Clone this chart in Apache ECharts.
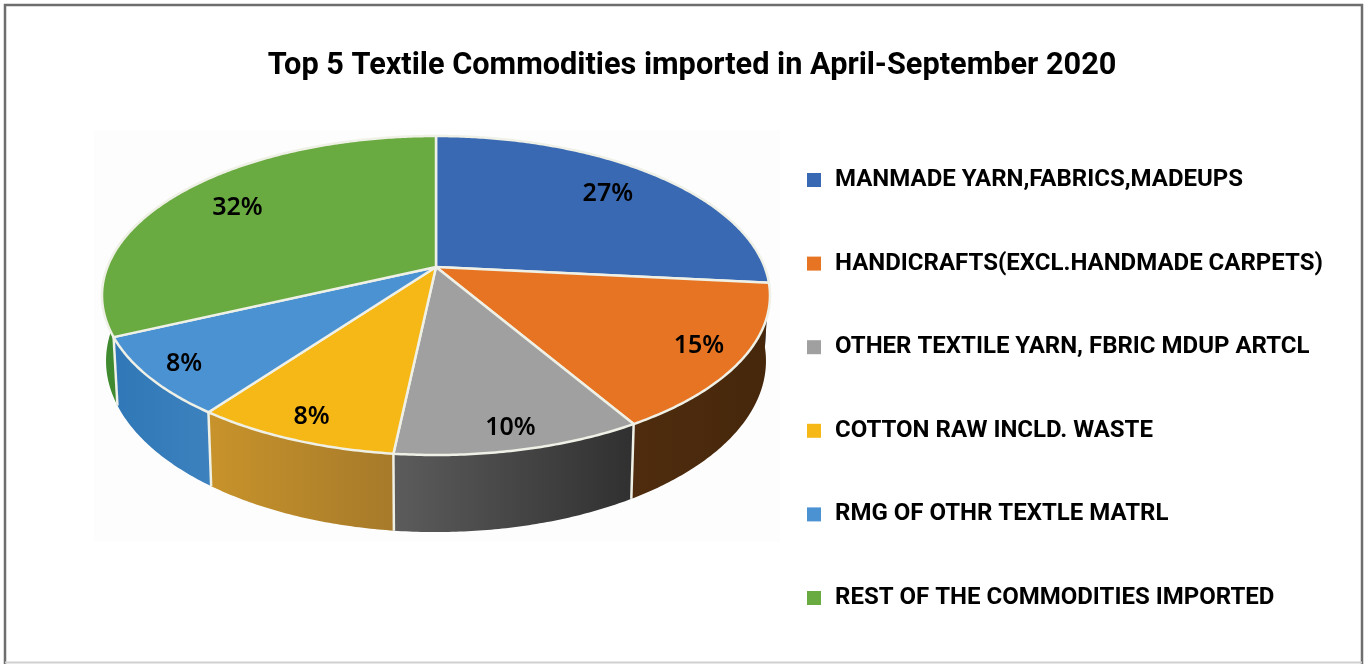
<!DOCTYPE html>
<html>
<head>
<meta charset="utf-8">
<style type="text/css">
html, body { margin: 0; padding: 0; background: #fff; }
#chart { width: 1368px; height: 664px; }
</style>
<script src="https://cdn.jsdelivr.net/npm/echarts@6/dist/echarts.min.js"></script>
</head>
<body>
<div id="chart"></div>
<script>
var chartTitle = 'Top 5 Textile Commodities imported in April-September 2020';
var categories = [
    'MANMADE YARN,FABRICS,MADEUPS',
    'HANDICRAFTS(EXCL.HANDMADE CARPETS)',
    'OTHER TEXTILE YARN, FBRIC MDUP ARTCL',
    'COTTON RAW INCLD. WASTE',
    'RMG OF OTHR TEXTLE MATRL',
    'REST OF THE COMMODITIES IMPORTED'
];
// estimated from the slice boundaries, they round to the printed labels
var shares = [26.6, 14.9, 10.2, 8.4, 8, 31.9];
var topColors = ['#3a69b4', '#e77423', '#a0a0a0', '#f6b817', '#4b92d3', '#69aa41'];
var wallColors = [
    ['#2c4f88', '#2c4f88'],
    ['#4f2c0e', '#46270b'],
    ['#5c5c5c', '#303030'],
    ['#c8932b', '#a67a2a'],
    ['#2f77b6', '#3d82bf'],
    ['#3f8a2f', '#4c8f36']
];
// how far out along the slice radius each percent label sits
var labelReach = [0.77, 0.87, 0.9, 0.89, 0.89, 0.77];

// the disc is seen in perspective, the hub is above the middle of the ellipse
var hubX = 436, hubY = 267, radiusX = 328.6, radiusY = 154.4, tilt = 0.1787, depth = 63.3, bottomShrink = 0.988;

function project(angle, reach) {
    var s = 1 / (1 + tilt * Math.cos(angle) * reach);
    return {
        x: hubX + radiusX * Math.sin(angle) * reach * s,
        y: hubY - radiusY * Math.cos(angle) * reach * s,
        s: s
    };
}

function below(p) {
    return [hubX + (p.x - hubX) * bottomShrink, p.y + depth * p.s];
}

function renderSlice(index, api) {
    var total = shares.reduce(function(a, b) { return a + b; }, 0);
    var before = shares.slice(0, index).reduce(function(a, b) { return a + b; }, 0);
    var start = before / total * Math.PI * 2;
    var end = (before + api.value(0)) / total * Math.PI * 2;
    var steps = Math.ceil((end - start) / 0.01);
    var top = [], bottom = [];
    for (var i = 0; i <= steps; i++) {
        var p = project(start + (end - start) * i / steps, 1);
        top.push([p.x, p.y]);
        bottom.unshift(below(p));
    }
    var children = [{
        type: 'polygon',
        z2: 1,
        shape: { points: top.concat(bottom) },
        style: {
            fill: new echarts.graphic.LinearGradient(0, 0, 1, 0, [
                { offset: 0, color: wallColors[index][0] },
                { offset: 1, color: wallColors[index][1] }
            ])
        }
    }];
    // seam down the wall, only where the start of the slice faces the viewer
    if (Math.cos(start) < -0.3) {
        var seam = project(start, 1);
        var seamEnd = below(seam);
        children.push({
            type: 'line',
            z2: 2,
            shape: { x1: seam.x, y1: seam.y, x2: seamEnd[0], y2: seamEnd[1] },
            style: { stroke: '#eff0e6', lineWidth: 2.5, fill: null }
        });
    }
    children.push({
        type: 'polygon',
        z2: 5,
        shape: { points: [[hubX, hubY]].concat(top) },
        style: { fill: topColors[index], stroke: '#eff0e6', lineWidth: 2.5, lineJoin: 'round' }
    });
    var mid = project((start + end) / 2, labelReach[index]);
    children.push({
        type: 'text',
        z2: 10,
        style: {
            x: mid.x,
            y: mid.y,
            text: Math.round(api.value(0)) + '%',
            fill: '#000',
            font: '600 25px "Noto Sans"',
            align: 'center',
            verticalAlign: 'middle'
        }
    });
    return { type: 'group', children: children };
}

var chart = echarts.init(document.getElementById('chart'));
var option = {
    backgroundColor: '#fff',
    animation: false,
    title: {
        text: chartTitle,
        left: 687,
        top: 46,
        textAlign: 'center',
        textStyle: { fontFamily: 'Roboto', fontWeight: 'bold', fontSize: 30.7, color: '#000' }
    },
    legend: {
        orient: 'vertical',
        left: 802,
        top: 161,
        selectedMode: false,
        icon: 'rect',
        itemWidth: 14,
        itemHeight: 14,
        itemGap: 55.6,
        textStyle: {
            fontFamily: 'Roboto',
            fontWeight: 'bold',
            fontSize: 24,
            lineHeight: 28,
            color: '#000',
            padding: [0, 0, 0, 9]
        },
        data: categories
    },
    graphic: [{
        type: 'rect',
        z: 0,
        shape: { x: 94, y: 130, width: 686, height: 412 },
        style: { fill: '#fdfdfd' }
    }, {
        type: 'polyline',
        shape: { points: [[5, 664], [5, 5], [1362, 5], [1362, 664]] },
        style: { stroke: '#6e6e6e', lineWidth: 2.5, fill: null }
    }, {
        type: 'line',
        shape: { x1: 5, y1: 662.5, x2: 1362, y2: 662.5 },
        style: { stroke: '#cfcfcf', lineWidth: 2 }
    }],
    series: categories.map(function(name, index) {
        return {
            type: 'custom',
            name: name,
            coordinateSystem: 'none',
            itemStyle: { color: topColors[index] },
            data: [[shares[index]]],
            renderItem: function(params, api) {
                return renderSlice(index, api);
            }
        };
    })
};
chart.setOption(option);
</script>
</body>
</html>
